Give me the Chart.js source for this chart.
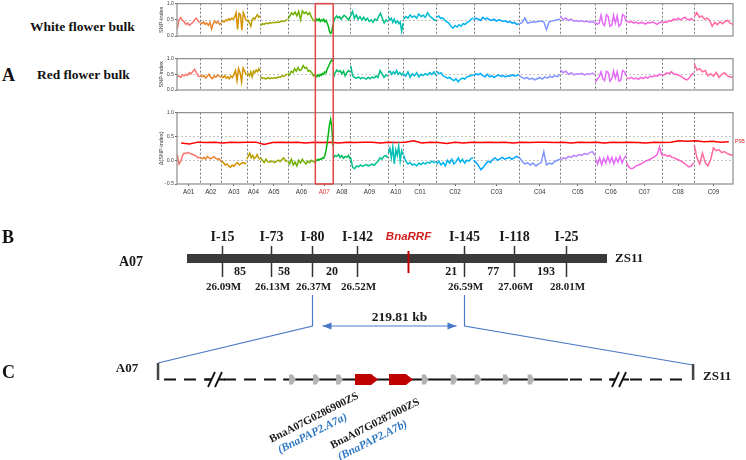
<!DOCTYPE html>
<html><head><meta charset="utf-8">
<script src="https://cdn.jsdelivr.net/npm/chart.js@4/dist/chart.umd.min.js"></script>
<style>
body{margin:0;background:#fff;}
#wrap{position:relative;width:746px;height:460px;overflow:hidden;background:#fff;}
canvas{position:absolute;}
.lbl{position:absolute;font-family:"Liberation Serif","Times New Roman",serif;font-weight:bold;color:#111;white-space:nowrap;line-height:1;}
</style></head><body>
<div id="wrap">
<canvas id="c1" width="591" height="55" style="left:155px;top:0px"></canvas>
<canvas id="c2" width="591" height="54" style="left:155px;top:55px"></canvas>
<canvas id="c3" width="591" height="91" style="left:155px;top:109px"></canvas>
<canvas id="c4" width="746" height="260" style="left:0px;top:200px"></canvas>
<div class="lbl" style="left:30px;top:20px;font-size:13.5px">White flower bulk</div>
<div class="lbl" style="left:37px;top:68px;font-size:13.5px">Red flower bulk</div>
<div class="lbl" style="left:2px;top:66px;font-size:18px">A</div>
<div class="lbl" style="left:2px;top:228px;font-size:18px">B</div>
<div class="lbl" style="left:2px;top:363px;font-size:18px">C</div>
</div>
<script>
// ---------------- DATA ----------------
const chromosomes = ['A01','A02','A03','A04','A05','A06','A07','A08','A09','A10','C01','C02','C03','C04','C05','C06','C07','C08','C09'];
const chromLengths = [35,32,38,21,41,42,27,26,57,23,50,56,69,62,53,47,54,48,59];
const highlightChrom = 'A07';

const whiteBulk = [
 [0.22,0.50,0.57,0.48,0.44,0.36,0.40,0.33,0.38,0.42,0.50,0.55,0.46,0.42],
 [0.42,0.38,0.44,0.36,0.40,0.33,0.42,0.22,0.38,0.46,0.40,0.45,0.36,0.40],
 [0.42,0.46,0.44,0.50,0.48,0.53,0.50,0.55,0.52,0.58,0.72,0.20,0.70,0.66,0.18,0.72,0.60,0.48],
 [0.45,0.48,0.40,0.30,0.50,0.56,0.52,0.60,0.66,0.58,0.62],
 [0.33,0.38,0.36,0.40,0.38,0.41,0.40,0.42,0.41,0.43,0.42,0.44,0.46,0.45,0.48,0.50],
 [0.52,0.60,0.72,0.66,0.74,0.62,0.76,0.50,0.78,0.70,0.74,0.66,0.72,0.58,0.48,0.46],
 [0.46,0.52,0.48,0.53,0.45,0.50,0.47,0.52,0.44,0.48,0.40,0.30,0.15,0.08,0.12,0.35],
 [0.42,0.55,0.62,0.56,0.60,0.52,0.58,0.64,0.60,0.55,0.50,0.60],
 [0.62,0.76,0.55,0.65,0.52,0.60,0.50,0.58,0.48,0.55,0.45,0.50,0.42,0.52,0.48,0.60,0.70,0.55,0.40,0.50,0.45],
 [0.58,0.50,0.55,0.42,0.52,0.40,0.46,0.38,0.44,0.15,0.40],
 [0.52,0.60,0.55,0.65,0.58,0.62,0.55,0.68,0.60,0.64,0.58,0.72,0.62,0.56,0.50,0.48],
 [0.58,0.62,0.54,0.56,0.48,0.44,0.40,0.30,0.24,0.32,0.28,0.35,0.30,0.38,0.36,0.42,0.45,0.52,0.56],
 [0.50,0.55,0.52,0.48,0.58,0.52,0.55,0.50,0.48,0.52,0.46,0.50,0.48,0.45,0.47,0.42,0.45,0.40,0.42,0.36,0.38],
 [0.38,0.42,0.56,0.40,0.42,0.44,0.43,0.45,0.46,0.44,0.20,0.44,0.46,0.48,0.50,0.52],
 [0.62,0.50,0.56,0.48,0.52,0.46,0.48,0.45,0.47,0.44,0.46,0.42,0.45,0.40],
 [0.42,0.36,0.40,0.64,0.38,0.32,0.66,0.60,0.30,0.34,0.64,0.40,0.62,0.30,0.36,0.66,0.62,0.45],
 [0.46,0.42,0.45,0.40,0.43,0.38,0.42,0.40,0.37,0.42,0.40,0.44,0.40,0.36,0.42,0.44],
 [0.40,0.44,0.42,0.48,0.46,0.52,0.50,0.55,0.50,0.54,0.58,0.52,0.50,0.54,0.48],
 [0.60,0.72,0.58,0.62,0.52,0.55,0.48,0.30,0.42,0.35,0.44,0.38,0.45,0.48,0.40,0.36]
];
const redBulk = [
 [0.42,0.45,0.40,0.48,0.45,0.50,0.47,0.55,0.52,0.60,0.66,0.55,0.45,0.42],
 [0.48,0.42,0.46,0.38,0.44,0.50,0.40,0.36,0.45,0.41,0.48,0.44,0.40],
 [0.44,0.40,0.46,0.38,0.42,0.36,0.45,0.40,0.50,0.62,0.30,0.68,0.55,0.26,0.70,0.60,0.48],
 [0.48,0.52,0.45,0.58,0.42,0.60,0.55,0.64,0.58,0.68,0.60],
 [0.42,0.37,0.38,0.35,0.40,0.36,0.38,0.37,0.40,0.38,0.42,0.40,0.45,0.43,0.48,0.50],
 [0.52,0.48,0.60,0.55,0.68,0.60,0.72,0.62,0.65,0.78,0.70,0.72,0.60,0.62,0.55,0.45,0.50],
 [0.46,0.42,0.48,0.44,0.50,0.47,0.53,0.50,0.58,0.55,0.66,0.74,0.82,0.90,0.96,0.92],
 [0.40,0.55,0.64,0.58,0.62,0.52,0.60,0.45,0.55,0.62,0.58],
 [0.78,0.45,0.40,0.38,0.42,0.36,0.40,0.38,0.35,0.40,0.36,0.42,0.38,0.45,0.40,0.62,0.52,0.40,0.48,0.44],
 [0.55,0.60,0.50,0.58,0.52,0.62,0.50,0.56,0.48,0.55],
 [0.52,0.44,0.58,0.40,0.52,0.45,0.55,0.42,0.50,0.46,0.52,0.48,0.56,0.50,0.58,0.46],
 [0.60,0.52,0.55,0.45,0.42,0.38,0.40,0.34,0.30,0.36,0.26,0.34,0.38,0.35,0.42,0.44,0.46,0.48],
 [0.46,0.52,0.48,0.53,0.46,0.42,0.50,0.42,0.46,0.40,0.45,0.48,0.43,0.46,0.42,0.45,0.44,0.48,0.45,0.46,0.50],
 [0.45,0.40,0.36,0.40,0.34,0.38,0.32,0.36,0.40,0.35,0.42,0.38,0.44,0.40,0.46,0.42,0.50],
 [0.64,0.55,0.60,0.50,0.55,0.48,0.52,0.50,0.53,0.48,0.52,0.50,0.54,0.48],
 [0.25,0.35,0.42,0.58,0.36,0.30,0.60,0.56,0.28,0.35,0.60,0.38,0.58,0.28,0.32,0.62,0.58,0.45],
 [0.38,0.36,0.40,0.35,0.38,0.34,0.40,0.36,0.42,0.38,0.44,0.42,0.46,0.44,0.50,0.48],
 [0.46,0.50,0.55,0.52,0.58,0.52,0.50,0.48,0.45,0.40,0.35,0.32,0.38,0.48,0.55],
 [0.84,0.64,0.68,0.58,0.62,0.45,0.52,0.44,0.56,0.40,0.50,0.55,0.46,0.42,0.40]
];
const deltaIndex = [
 [0.12,-0.08,-0.02,0.10,0.15,0.14,0.16,0.15,0.13,0.12,0.10,0.08,0.05,0.06],
 [0.05,0.03,0.06,0.02,0.08,0.05,0.03,0.06,0.07,0.04,0.02,0.03,-0.03],
 [-0.02,-0.05,-0.10,-0.08,-0.12,-0.15,-0.10,-0.13,-0.08,-0.05,-0.10,-0.07,-0.05,-0.06,-0.08],
 [0.02,0.08,0.15,0.05,0.10,0.03,0.06,0.12,0.04,0.02],
 [0.05,0.00,-0.05,0.02,-0.03,-0.04,-0.02,-0.03,-0.05,-0.02,0.00,-0.03,0.02,0.05,-0.02,0.00],
 [-0.02,-0.08,0.02,-0.10,-0.04,-0.12,0.00,-0.06,0.02,-0.04,-0.08,-0.02,-0.05,0.00,-0.03,-0.05],
 [0.00,-0.01,0.02,0.00,0.03,0.02,0.05,0.04,0.10,0.20,0.35,0.55,0.75,0.86,0.70,0.30],
 [0.05,0.10,0.08,0.12,0.06,0.10,0.04,0.08,0.06,0.10,0.02],
 [0.05,-0.15,-0.18,-0.12,-0.14,-0.10,-0.13,-0.11,-0.09,-0.12,-0.10,-0.08,-0.11,-0.06,-0.02,0.05,0.02,0.08,0.10,0.05],
 [0.15,0.25,0.05,0.28,-0.08,0.22,0.10,0.30,-0.02,0.20,0.12],
 [0.10,-0.02,-0.08,-0.05,-0.10,-0.08,-0.12,-0.06,-0.09,-0.05,-0.08,-0.04,-0.06,-0.02,-0.05,-0.03],
 [-0.08,-0.02,-0.10,-0.05,-0.12,0.00,-0.06,0.02,-0.08,-0.03,0.05,-0.04,0.02,-0.06,0.00,-0.02,0.04,0.05],
 [0.00,-0.05,-0.12,-0.20,-0.15,-0.08,-0.02,-0.05,0.02,0.05,0.00,0.03,0.06,0.02,0.04,0.06,0.02,0.05,0.08,0.05],
 [0.05,-0.02,-0.08,-0.05,-0.10,-0.06,-0.12,-0.08,-0.05,0.18,-0.10,-0.06,-0.08,-0.03,0.00,0.02],
 [0.00,0.05,0.03,0.08,0.06,0.10,0.08,0.12,0.10,0.14,0.12,0.16,0.18,0.10],
 [0.02,-0.08,0.05,-0.10,0.04,-0.06,0.08,-0.05,0.06,-0.08,0.05,-0.04,0.08,-0.06,0.04,0.10],
 [-0.05,-0.15,-0.18,-0.16,-0.12,-0.10,-0.08,-0.05,-0.02,0.00,0.02,0.05,0.08,0.12,0.28,0.10],
 [0.10,0.12,0.08,0.10,0.06,0.05,0.02,0.00,-0.03,-0.06,-0.10,-0.14,-0.12,-0.05],
 [0.32,0.05,-0.08,0.15,-0.05,-0.12,0.02,0.26,0.20,0.22,0.16,0.18,0.14,0.12,0.10]
];
const p95 = [0.36,0.34,0.38,0.37,0.38,0.36,0.38,0.37,0.38,0.38,0.33,0.37,0.38,0.37,0.38,0.36,0.38,0.37,0.38,0.36,
 0.38,0.37,0.38,0.38,0.36,0.38,0.37,0.38,0.41,0.36,0.38,0.37,0.35,0.38,0.36,0.38,0.37,0.38,0.37,0.38,
 0.36,0.38,0.37,0.38,0.38,0.37,0.38,0.36,0.38,0.37,0.38,0.36,0.38,0.37,0.38,0.37,0.36,0.38,0.37,0.38,
 0.41,0.40,0.41,0.39,0.40,0.38,0.39];

// Panel B / C (schematic units along the A07 fine-mapping bar, 0..100)
const markerNames = ['I-15','I-73','I-80','I-142','BnaRRF','I-145','I-118','I-25'];
const markerPos = [8.3,20.0,29.8,40.5,52.6,66.0,77.9,90.2];
const markerMb = ['26.09M','26.13M','26.37M','26.52M','','26.59M','27.06M','28.01M'];
const intervalCounts = ['85','58','20','21','77','193'];
const intervalPos = [12.6,23.1,34.5,62.9,72.9,85.5];
const intervalSize = '219.81 kb';
const geneStart = [24.3,30.0,35.5,40.0,48.1,55.9,62.8,68.5,75.2,81.1];
const geneEnd   = [25.9,31.6,37.1,45.5,53.8,57.5,64.4,70.1,76.8,82.7];
const geneCandidate = [0,0,0,1,1,0,0,0,0,0];
const candidateIds = ['BnaA07G0286900ZS','BnaA07G0287000ZS'];
const candidateAlias = ['(BnaPAP2.A7a)','(BnaPAP2.A7b)'];
const candidateIdX = [41.0,55.5];
const candidateAliasX = [38.3,52.6];
const regionEnds = [-6.9,120.5];
const solidSpan = [22.9,90.7];
const breakPos = [6.9,103.1];

// ---------------- helpers ----------------
function hcl(h,c,l){
  const hr=h*Math.PI/180, U=c*Math.cos(hr), V=c*Math.sin(hr);
  const Xn=95.047,Yn=100,Zn=108.883, d=Xn+15*Yn+3*Zn, un=4*Xn/d, vn=9*Yn/d;
  const Y=Yn*Math.pow((l+16)/116,3);
  const up=U/(13*l)+un, vp=V/(13*l)+vn;
  const X=Y*9*up/(4*vp), Z=Y*(12-3*up-20*vp)/(4*vp);
  const x=X/100,y=Y/100,z=Z/100;
  const lin=[3.2404542*x-1.5371385*y-0.4985314*z,-0.9692660*x+1.8760108*y+0.0415560*z,0.0556434*x-0.2040259*y+1.0572252*z];
  return '#'+lin.map(t=>{t=t<=0.0031308?12.92*t:1.055*Math.pow(t,1/2.4)-0.055;t=Math.min(1,Math.max(0,t));return Math.round(t*255).toString(16).padStart(2,'0');}).join('');
}
const palette = chromosomes.map((c,i)=>hcl(15+360*i/chromosomes.length,100,65));
const starts=[]; let acc=0; chromLengths.forEach(L=>{starts.push(acc);acc+=L;});
const total=acc;
function pts(vals,ci){const s=starts[ci],L=chromLengths[ci],n=vals.length;return vals.map((v,i)=>({x:s+0.4+(L-0.8)*i/(n-1),y:v}));}
function seg(ctx,x0,y0,x1,y1){ctx.beginPath();ctx.moveTo(x0,y0);ctx.lineTo(x1,y1);ctx.stroke();}

const deco = {
  id:'deco',
  beforeDatasetsDraw(chart,args,o){
    const {ctx,chartArea:a,scales:{x,y}}=chart;
    ctx.save();
    ctx.setLineDash([2,2]);ctx.lineWidth=0.8;ctx.strokeStyle='#b5b5b5';
    o.hlines.forEach(v=>{const py=Math.round(y.getPixelForValue(v))+0.5;seg(ctx,a.left,py,a.right,py);});
    ctx.strokeStyle='#555';
    for(let i=1;i<starts.length;i++){const px=Math.round(x.getPixelForValue(starts[i]))+0.5;seg(ctx,px,a.top,px,a.bottom);}
    ctx.restore();
  },
  afterDatasetsDraw(chart,args,o){
    const {ctx,chartArea:a,scales:{x,y}}=chart;
    ctx.save();
    ctx.strokeStyle='#8c8c8c';ctx.lineWidth=1.2;
    ctx.strokeRect(a.left,a.top,a.width,a.height);
    const ci=chromosomes.indexOf(highlightChrom);
    const x0=x.getPixelForValue(starts[ci]),x1=x.getPixelForValue(starts[ci]+chromLengths[ci]);
    const top=o.first?a.top:0,bot=o.last?a.bottom:chart.height;
    ctx.strokeStyle='#e04545';ctx.lineWidth=1.5;
    seg(ctx,x0,top,x0,bot);seg(ctx,x1,top,x1,bot);
    if(o.first)seg(ctx,x0,top,x1,top);
    if(o.last)seg(ctx,x0,bot,x1,bot);
    if(o.p95){
      ctx.fillStyle='#e02020';ctx.font='5.5px "Liberation Sans",Arial,sans-serif';
      ctx.textAlign='left';ctx.textBaseline='middle';
      ctx.fillText('P95',a.right+2,y.getPixelForValue(p95[p95.length-1]));
    }
    ctx.restore();
  }
};

function makeA(id,series,opt){
  const datasets=series.map((vals,ci)=>({data:pts(vals,ci),borderColor:palette[ci],borderWidth:1.5,pointRadius:0,tension:0}));
  if(opt.p95){
    datasets.push({data:p95.map((v,i)=>({x:total*(i+0.5)/p95.length,y:v})),borderColor:'#ff0000',borderWidth:1.5,pointRadius:0,tension:0});
  }
  return new Chart(document.getElementById(id),{
    type:'line',
    data:{datasets},
    options:{
      responsive:false,animation:false,devicePixelRatio:1,
      layout:{padding:{left:0,right:13,top:opt.padTop,bottom:opt.padBottom}},
      plugins:{legend:{display:false},tooltip:{enabled:false},
        deco:{hlines:opt.hlines,first:opt.first,last:opt.last,p95:opt.p95}},
      scales:{
        x:{type:'linear',min:0,max:total,display:!!opt.last,
          afterBuildTicks:s=>{s.ticks=starts.map((st,i)=>({value:st+chromLengths[i]/2}));},
          ticks:{autoSkip:false,maxRotation:0,minRotation:0,padding:2,
            font:{size:6.3,family:'"Liberation Sans",Arial,sans-serif'},
            color:c=>chromosomes[c.index]===highlightChrom?'#e03a3a':'#333',
            callback:(v,i)=>chromosomes[i]},
          grid:{drawOnChartArea:false,drawTicks:true,tickLength:2,color:'#666'},
          border:{display:false},
          afterFit:s=>{s.height=16;}
        },
        y:{min:opt.min,max:1,
          ticks:{stepSize:0.5,padding:1,color:'#444',font:{size:5.3,family:'"Liberation Sans",Arial,sans-serif',lineHeight:1},callback:v=>v.toFixed(1)},
          grid:{drawOnChartArea:false,drawTicks:true,tickLength:2,color:'#666'},
          border:{display:false},
          title:{display:true,text:opt.title,color:'#333',font:{size:5.5,family:'"Liberation Sans",Arial,sans-serif'},padding:{top:3,bottom:0}},
          afterFit:s=>{s.width=22;}
        }
      }
    },
    plugins:[deco]
  });
}
makeA('c1',whiteBulk,{min:0,title:'SNP-index',hlines:[0.5],first:true,last:false,padTop:3,padBottom:3});
makeA('c2',redBulk,{min:0,title:'SNP-index',hlines:[0.5],first:false,last:false,padTop:2,padBottom:3});
makeA('c3',deltaIndex,{min:-0.5,title:'Δ(SNP-index)',hlines:[0.5,0],first:false,last:true,p95:true,padTop:2,padBottom:0});

// ---------------- Panels B & C ----------------
const schematic = {
  id:'schematic',
  afterDatasetsDraw(chart){
    const {ctx}=chart;const xs=chart.scales.x,ys=chart.scales.y;
    const X=v=>xs.getPixelForValue(v),Y=v=>ys.getPixelForValue(v);
    const serif='"Liberation Serif","Times New Roman",serif';
    ctx.save();
    ctx.textAlign='center';ctx.textBaseline='middle';
    markerNames.forEach((nm,i)=>{
      const px=Math.round(X(markerPos[i]))+0.5;
      if(nm==='BnaRRF'){
        ctx.font='italic bold 11.5px "Liberation Sans",Arial,sans-serif';ctx.fillStyle='#d42020';
        ctx.fillText(nm,px,Y(237));
        ctx.strokeStyle='#c00000';ctx.lineWidth=2;seg(ctx,px,Y(251),px,Y(273));
      }else{
        ctx.font='bold 14px '+serif;ctx.fillStyle='#1a1a1a';
        ctx.fillText(nm,px,Y(237.5));
        ctx.strokeStyle='#333';ctx.lineWidth=1.5;
        seg(ctx,px,Y(246),px,Y(254));seg(ctx,px,Y(263),px,Y(277));
        ctx.font='bold 11px '+serif;ctx.fillText(markerMb[i],px+1,Y(287.5));
      }
    });
    ctx.font='bold 12px '+serif;ctx.fillStyle='#1a1a1a';
    intervalCounts.forEach((t,i)=>ctx.fillText(t,X(intervalPos[i]),Y(272)));
    ctx.font='bold 14px '+serif;ctx.textAlign='right';ctx.fillText('A07',X(0)-44,Y(262));
    ctx.font='bold 13px '+serif;ctx.textAlign='left';ctx.fillText('ZS11',X(100)+8,Y(259));
    const iL=markerNames.indexOf('I-80'),iR=markerNames.indexOf('I-145');
    const bl=Math.round(X(markerPos[iL]))+0.5,br=Math.round(X(markerPos[iR]))+0.5;
    ctx.strokeStyle='#4a78c8';ctx.lineWidth=1.2;
    ctx.beginPath();ctx.moveTo(bl,Y(295));ctx.lineTo(bl,Y(326));ctx.lineTo(X(regionEnds[0]),Y(363));ctx.stroke();
    ctx.beginPath();ctx.moveTo(br,Y(295));ctx.lineTo(br,Y(326));ctx.lineTo(X(regionEnds[1]),Y(365));ctx.stroke();
    const ax0=bl+10,ax1=br-8,ay=Y(326);
    ctx.lineWidth=1;seg(ctx,ax0,ay,ax1,ay);
    ctx.fillStyle='#4a78c8';
    ctx.beginPath();ctx.moveTo(ax0,ay);ctx.lineTo(ax0+9,ay-3.5);ctx.lineTo(ax0+9,ay+3.5);ctx.closePath();ctx.fill();
    ctx.beginPath();ctx.moveTo(ax1,ay);ctx.lineTo(ax1-9,ay-3.5);ctx.lineTo(ax1-9,ay+3.5);ctx.closePath();ctx.fill();
    ctx.font='bold 13.5px '+serif;ctx.fillStyle='#1a1a1a';ctx.textAlign='center';
    ctx.fillText(intervalSize,(ax0+ax1)/2+10,Y(318));
    const ly=Y(379.5),lx0=X(regionEnds[0]),lx1=X(regionEnds[1]);
    ctx.strokeStyle='#444';ctx.lineWidth=2.5;
    seg(ctx,lx0,Y(363),lx0,Y(380));seg(ctx,lx1,Y(364),lx1,Y(380));
    ctx.strokeStyle='#111';ctx.lineWidth=2;
    ctx.setLineDash([12,8]);
    seg(ctx,lx0+6,ly,X(solidSpan[0]),ly);
    seg(ctx,X(solidSpan[1])+2,ly,lx1-4,ly);
    ctx.setLineDash([]);
    seg(ctx,X(solidSpan[0]),ly,X(solidSpan[1]),ly);
    breakPos.forEach(b=>{
      const bx=X(b);
      ctx.fillStyle='#fff';ctx.fillRect(bx-5,ly-3,10,6);
      ctx.strokeStyle='#111';ctx.lineWidth=1.8;
      seg(ctx,bx-8,Y(387),bx-1,Y(372));seg(ctx,bx-1,Y(387),bx+6,Y(372));
      ctx.lineWidth=2;seg(ctx,bx-11,ly,bx-5,ly);seg(ctx,bx+3,ly,bx+9,ly);
    });
    geneStart.forEach((s,i)=>{
      const gx0=X(s),gx1=X(geneEnd[i]);
      const cand=geneCandidate[i]===1;
      const h=cand?5.5:5,tip=cand?7:3;
      ctx.fillStyle=cand?'#c00000':'#b3b3b3';
      ctx.beginPath();ctx.moveTo(gx0,ly-h);ctx.lineTo(gx1-tip,ly-h);ctx.lineTo(gx1,ly);ctx.lineTo(gx1-tip,ly+h);ctx.lineTo(gx0,ly+h);ctx.closePath();ctx.fill();
    });
    ctx.font='bold 13px '+serif;ctx.fillStyle='#1a1a1a';ctx.textAlign='center';
    ctx.fillText('A07',X(regionEnds[0])-31,Y(369));
    ctx.textAlign='left';ctx.fillText('ZS11',X(regionEnds[1])+10,Y(377));
    const ang=-27*Math.PI/180;
    const idY=[398,404],aliasY=[419,426];
    candidateIds.forEach((t,i)=>{
      ctx.save();ctx.translate(X(candidateIdX[i]),Y(idY[i]));ctx.rotate(ang);
      ctx.font='bold 11px '+serif;ctx.fillStyle='#1a1a1a';ctx.textAlign='right';ctx.textBaseline='alphabetic';
      ctx.fillText(t,0,0);ctx.restore();
      ctx.save();ctx.translate(X(candidateAliasX[i]),Y(aliasY[i]));ctx.rotate(ang);
      ctx.font='italic bold 11.5px '+serif;ctx.fillStyle='#2f78c4';ctx.textAlign='right';ctx.textBaseline='alphabetic';
      ctx.fillText(candidateAlias[i],0,0);ctx.restore();
    });
    ctx.restore();
  }
};
new Chart(document.getElementById('c4'),{
  type:'line',
  data:{datasets:[{data:[{x:0,y:258.5},{x:100,y:258.5}],borderColor:'#3a3a3a',borderWidth:9,pointRadius:0,borderCapStyle:'butt'}]},
  options:{responsive:false,animation:false,devicePixelRatio:1,
    layout:{padding:0},
    plugins:{legend:{display:false},tooltip:{enabled:false}},
    scales:{x:{type:'linear',min:-187/4.2,max:(746-187)/4.2,display:false},
            y:{min:200,max:460,reverse:true,display:false}}},
  plugins:[schematic]
});
</script>
</body></html>
